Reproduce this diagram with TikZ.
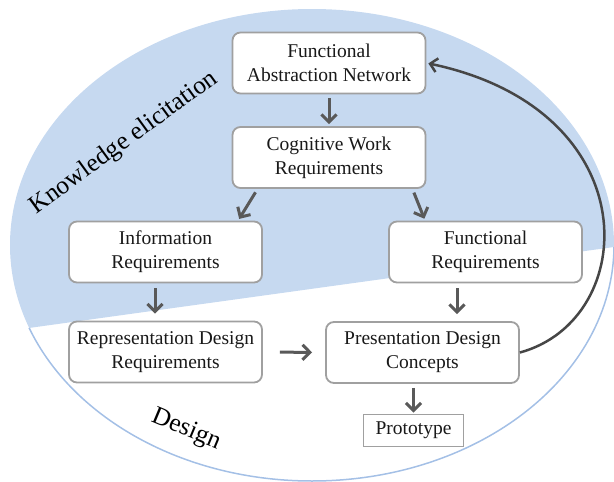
\documentclass[tikz,border=0pt]{standalone}
\usepackage{fontspec}
\setmainfont{Liberation Serif}
\usetikzlibrary{arrows.meta}
\definecolor{regionblue}{RGB}{198,217,240}
\definecolor{rimblue}{RGB}{164,192,230}
\definecolor{boxline}{RGB}{160,160,160}
\definecolor{flowgray}{RGB}{89,89,89}
\definecolor{loopgray}{RGB}{70,70,70}
\tikzset{
  stagebox/.style={draw=boxline, line width=1.8pt, fill=white, rounded corners=8pt,
    minimum width=193pt, minimum height=61pt, align=center, inner sep=0pt,
    text=black!90, font=\fontsize{19.5}{24}\selectfont},
  flow/.style={draw=flowgray, line width=3pt, -{Straight Barb[length=7.5pt,width=15pt]}},
  loop/.style={draw=loopgray, line width=2.5pt, -{Straight Barb[length=7pt,width=14pt]}},
  phase/.style={font=\fontsize{25.5}{30}\selectfont, text=black, inner sep=0pt},
}
\begin{document}
\begin{tikzpicture}[x=1pt,y=-1pt]
\useasboundingbox (0,0) rectangle (614,482);

% elicitation region: upper part of the ellipse
\begin{scope}
  \clip (312,245) ellipse [x radius=302, y radius=236];
  \fill[regionblue] (0,0) -- (614,0) -- (614,247) -- (0,332) -- cycle;
\end{scope}
% rim of the design region
\begin{scope}
  \clip (0,332) -- (614,247) -- (614,482) -- (0,482) -- cycle;
  \draw[rimblue, line width=1.5pt] (312,245) ellipse [x radius=302, y radius=236];
\end{scope}

% phase labels
\node[phase, rotate=36] (ke) at (124,143) {Knowledge elicitation};
\node[phase, rotate=-22.7] (dz) at (186,430) {Design};

% stages
\node[stagebox] (fan) at (329,63) {Functional\\Abstraction Network};
\node[stagebox] (cwr) at (329,157.5) {Cognitive Work\\Requirements};
\node[stagebox] (ir)  at (165.5,252) {Information\\Requirements};
\node[stagebox] (fr)  at (485.5,252) {Functional\\Requirements};
\node[stagebox] (rdr) at (165.5,352) {Representation Design\\Requirements};
\node[stagebox] (pdc) at (422.5,352.5) {Presentation Design\\Concepts};
\node[stagebox, rounded corners=0pt, minimum width=100pt, minimum height=32pt]
  (proto) at (413.5,430.5) {Prototype};

% flow between stages
\draw[flow, shorten <=4pt, shorten >=2pt] (fan.south) -- (cwr.north);
\draw[flow, shorten <=4pt, shorten >=2pt] ([xshift=26pt]cwr.south west) -- ([xshift=170pt]ir.north west);
\draw[flow, shorten <=4pt, shorten >=2pt] ([xshift=-14pt]cwr.south east) -- ([xshift=37pt]fr.north west);
\draw[flow, shorten <=5pt, shorten >=7pt] ([xshift=-10.5pt]ir.south) -- ([xshift=-10.5pt]rdr.north);
\draw[flow, shorten <=5pt, shorten >=7pt] ([xshift=-28.5pt]fr.south) -- ([xshift=34.5pt]pdc.north);
\draw[flow, shorten <=17pt, shorten >=13pt] (rdr.east) -- (pdc.west);
\draw[flow, shorten <=4pt, shorten >=1pt] ([xshift=-9pt]pdc.south) -- (proto.north);

% feedback loop back to the abstraction network
\draw[loop, shorten >=2pt] (pdc.east) .. controls (640,320) and (650,110) .. (fan.east);
\end{tikzpicture}
\end{document}
